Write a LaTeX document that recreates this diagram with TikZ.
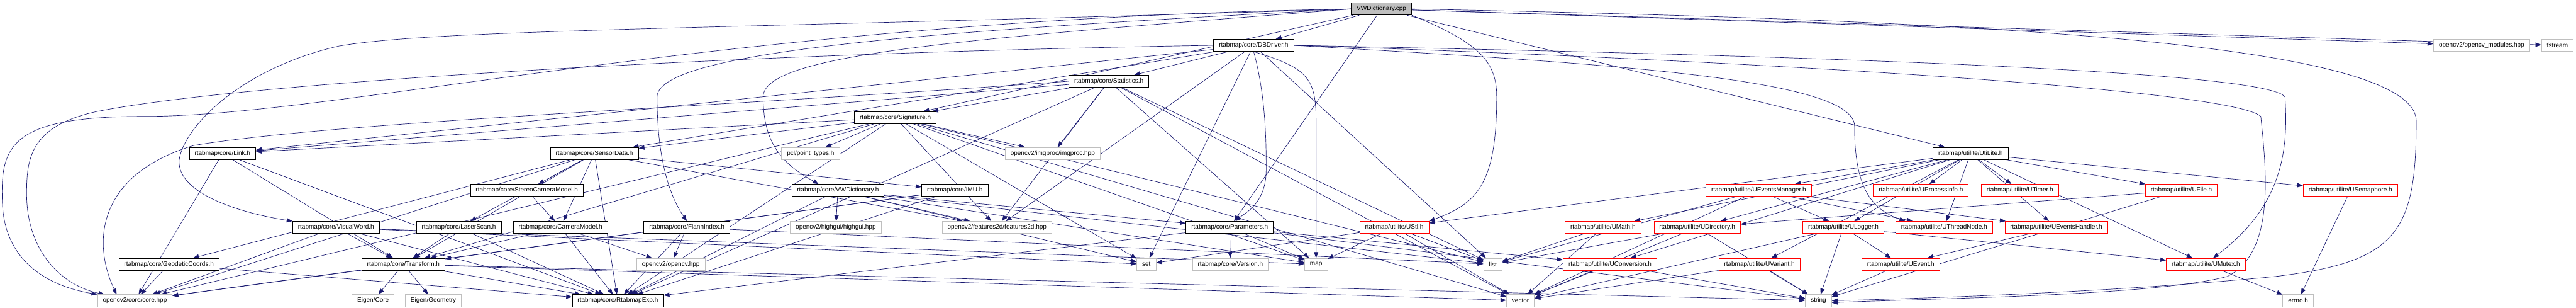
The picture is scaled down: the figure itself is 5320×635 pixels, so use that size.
\documentclass[tikz,border=0pt]{standalone}
\usepackage{fontspec}
\setmainfont{Liberation Sans}
\usetikzlibrary{arrows.meta, backgrounds}
\definecolor{edgeblue}{HTML}{191970}
\definecolor{extgray}{HTML}{BFBFBF}
\definecolor{truncred}{HTML}{FF0000}

\begin{document}
\begin{tikzpicture}[
    x=1pt, y=-1pt,
    >={Triangle[length=12pt, width=9pt]},
    every node/.style={font=\fontsize{13}{15}\selectfont, inner xsep=11pt,
      inner ysep=0pt, minimum height=25pt, line width=1pt, fill=white},
    hfile/.style={draw=black},
    hred/.style={draw=truncred},
    hext/.style={draw=extgray},
    hroot/.style={draw=black, fill=extgray},
    dep/.style={->, edgeblue, line width=0.9pt},
  ]
  \useasboundingbox (0,0) rectangle (5320,635);

  % ===== Rows 0-3 =====
  \node[hroot] (cpp) at (2853,18.5) {VWDictionary.cpp};
  \node[hfile] (dbdriver) at (2589,93.5) {rtabmap/core/DBDriver.h};
  \node[hext] (modules) at (5125,93.5) {opencv2/opencv\_modules.hpp};
  \node[hext] (fstream) at (5281.5,93.5) {fstream};
  \node[hfile] (statistics) at (2290,167.5) {rtabmap/core/Statistics.h};
  \node[hfile] (signature) at (1849,242.5) {rtabmap/core/Signature.h};

  % ===== Row 4 =====
  \node[hfile] (link) at (459.5,316.5) {rtabmap/core/Link.h};
  \node[hfile] (sensordata) at (1227.5,316.5) {rtabmap/core/SensorData.h};
  \node[hext] (pointtypes) at (1674,316.5) {pcl/point\_types.h};
  \node[hext] (imgproc) at (2174,316.5) {opencv2/imgproc/imgproc.hpp};
  \node[hfile] (utilite) at (4069.5,316.5) {rtabmap/utilite/UtiLite.h};

  % ===== Row 5 =====
  \node[hfile] (stereo) at (1088,392.5) {rtabmap/core/StereoCameraModel.h};
  \node[hfile] (vwdict) at (1730.5,392.5) {rtabmap/core/VWDictionary.h};
  \node[hfile] (imu) at (1972,392.5) {rtabmap/core/IMU.h};
  \node[hred] (evmgr) at (3632,392.5) {rtabmap/utilite/UEventsManager.h};
  \node[hred] (procinfo) at (3967,392.5) {rtabmap/utilite/UProcessInfo.h};
  \node[hred] (timer) at (4171.5,392.5) {rtabmap/utilite/UTimer.h};
  \node[hred] (ufile) at (4505,392.5) {rtabmap/utilite/UFile.h};
  \node[hred] (usem) at (4854,392.5) {rtabmap/utilite/USemaphore.h};

  % ===== Row 6 =====
  \node[hfile] (visualword) at (694,469) {rtabmap/core/VisualWord.h};
  \node[hfile] (laserscan) at (947.5,469) {rtabmap/core/LaserScan.h};
  \node[hfile] (camera) at (1157.5,469) {rtabmap/core/CameraModel.h};
  \node[hfile] (flann) at (1418.5,469) {rtabmap/core/FlannIndex.h};
  \node[hext] (highgui) at (1726,469) {opencv2/highgui/highgui.hpp};
  \node[hext] (features2d) at (2059,469) {opencv2/features2d/features2d.hpp};
  \node[hfile] (parameters) at (2539.5,469) {rtabmap/core/Parameters.h};
  \node[hred] (ustl) at (2879.5,469) {rtabmap/utilite/UStl.h};
  \node[hred] (umath) at (3310.5,469) {rtabmap/utilite/UMath.h};
  \node[hred] (udir) at (3505,469) {rtabmap/utilite/UDirectory.h};
  \node[hred] (ulogger) at (3807,469) {rtabmap/utilite/ULogger.h};
  \node[hred] (uthread) at (4015,469) {rtabmap/utilite/UThreadNode.h};
  \node[hred] (uevhandler) at (4246.5,469) {rtabmap/utilite/UEventsHandler.h};

  % ===== Row 7 =====
  \node[hfile] (geodetic) at (349,545) {rtabmap/core/GeodeticCoords.h};
  \node[hfile] (transform) at (833,545) {rtabmap/core/Transform.h};
  \node[hext] (opencvhpp) at (1385.5,545) {opencv2/opencv.hpp};
  \node[hext] (stdset) at (2367.5,545) {set};
  \node[hext] (version) at (2541,545) {rtabmap/core/Version.h};
  \node[hext] (stdmap) at (2718,545) {map};
  \node[hext] (stdlist) at (3083,545) {list};
  \node[hred] (uconv) at (3325,545) {rtabmap/utilite/UConversion.h};
  \node[hred] (uvariant) at (3633.5,545) {rtabmap/utilite/UVariant.h};
  \node[hred] (uevent) at (3925.5,545) {rtabmap/utilite/UEvent.h};
  \node[hred] (umutex) at (4555.5,545) {rtabmap/utilite/UMutex.h};

  % ===== Row 8 =====
  \node[hext] (corehpp) at (278.5,620) {opencv2/core/core.hpp};
  \node[hext] (eigencore) at (770.5,620) {Eigen/Core};
  \node[hext] (eigengeo) at (895,620) {Eigen/Geometry};
  \node[hfile] (rtabexp) at (1276,620) {rtabmap/core/RtabmapExp.h};
  \node[hext] (stdvector) at (3140,620) {vector};
  \node[hext] (stdstring) at (3755.5,620) {string};
  \node[hext] (errno) at (4746,620) {errno.h};

  % ===== Include edges (behind the boxes) =====
  \begin{pgfonlayer}{background}
    % long arcs round the left side
    \draw[dep] (cpp.west) .. controls (1500,40) and (700,240) .. (300,240)
      .. controls (20,240) and (0,300) .. (5,420)
      .. controls (10,540) and (100,590) .. (corehpp.north west);
    \draw[dep] (dbdriver.west) .. controls (1500,110) and (500,170) .. (200,230)
      .. controls (60,260) and (55,330) .. (55,400)
      .. controls (55,520) and (130,590) .. ([xshift=15pt]corehpp.north west);
    \draw[dep] (statistics.west) .. controls (1500,220) and (700,250) .. (400,300)
      .. controls (200,360) and (190,500) .. ([xshift=40pt]corehpp.north west);
    \draw[dep] (cpp.west) .. controls (1500,60) and (900,60) .. (700,95)
      .. controls (500,140) and (380,260) .. (370,330)
      .. controls (365,400) and (500,440) .. (visualword.north west);

    % long arcs round the right side
    \draw[dep] (cpp.east) .. controls (4000,40) and (4990,80) .. (4990,250)
      .. controls (4990,480) and (4950,540) .. (4700,570)
      .. controls (4400,600) and (4000,615) .. (stdstring.east);
    \draw[dep] (dbdriver.east) .. controls (3500,110) and (4680,140) .. (4719,200)
      .. controls (4725,300) and (4720,420) .. ([xshift=15pt]umutex.north);
    \draw[dep] (dbdriver.east) .. controls (3500,120) and (4600,180) .. (4669,240)
      .. controls (4680,350) and (4700,520) .. (4600,570)
      .. controls (4450,610) and (4000,615) .. ([yshift=-4pt]stdstring.east);
    \draw[dep] (dbdriver.east) .. controls (3300,130) and (3830,160) .. (3830,260)
      .. controls (3830,380) and (3860,430) .. ([xshift=20pt]uthread.north west);

    % vertical drops
    \draw[dep] (cpp.west) .. controls (2000,60) and (1357,100) .. (1357,200)
      .. controls (1357,320) and (1380,400) .. (flann.north);
    \draw[dep] (cpp.west) .. controls (2000,80) and (1576,110) .. (1576,200)
      .. controls (1576,300) and (1620,340) .. ([xshift=-40pt]vwdict.north);
    \draw[dep] (cpp.south east) .. controls (3060,90) and (3091,130) .. (3091,200)
      .. controls (3091,380) and (3050,420) .. (ustl.north east);
    \draw[dep] (dbdriver.south) .. controls (2700,140) and (2718,160) .. (2718,250)
      -- (stdmap);
    \draw[dep] (dbdriver.south) .. controls (2615,200) and (2615,300) .. (2615,350)
      .. controls (2615,420) and (2570,440) .. ([xshift=12pt]parameters.north);

    % remaining includes
    \foreach \dst in {dbdriver,signature,parameters,utilite,modules,fstream}
      \draw[dep] (cpp) -- (\dst);
    \foreach \dst in {statistics,sensordata,link,stdlist,stdset,features2d}
      \draw[dep] (dbdriver) -- (\dst);
    \foreach \dst in {signature,link,imgproc,features2d,stdlist,stdvector,
        stdmap,rtabexp}
      \draw[dep] (statistics) -- (\dst);
    \foreach \dst in {pointtypes,imgproc,features2d,corehpp,sensordata,link,
        transform,stdmap,stdlist,stdvector,stdset,rtabexp}
      \draw[dep] (signature) -- (\dst);
    \foreach \dst in {transform,corehpp,rtabexp}
      \draw[dep] (link) -- (\dst);
    \foreach \dst in {stereo,camera,laserscan,imu,transform,rtabexp,corehpp,
        features2d,geodetic}
      \draw[dep] (sensordata) -- (\dst);
    \draw[dep] (stereo) -- (camera);
    \foreach \dst in {transform,rtabexp,opencvhpp}
      \draw[dep] (camera) -- (\dst);
    \foreach \dst in {transform,rtabexp}
      \draw[dep] (laserscan) -- (\dst);
    \foreach \dst in {opencvhpp,rtabexp,stdlist}
      \draw[dep] (flann) -- (\dst);
    \foreach \dst in {highgui,features2d,parameters,stdset,stdlist,stdmap,rtabexp}
      \draw[dep] (vwdict) -- (\dst);
    \foreach \dst in {transform,corehpp,rtabexp}
      \draw[dep] (imu) -- (\dst);
    \foreach \dst in {corehpp,transform,rtabexp,stdmap,stdset}
      \draw[dep] (visualword) -- (\dst);
    \foreach \dst in {corehpp,rtabexp}
      \draw[dep] (geodetic) -- (\dst);
    \foreach \dst in {eigencore,eigengeo,corehpp,rtabexp,stdvector,stdstring}
      \draw[dep] (transform) -- (\dst);
    \foreach \dst in {rtabexp,version,stdmap,stdstring,uconv}
      \draw[dep] (parameters) -- (\dst);
    \foreach \dst in {evmgr,procinfo,timer,ulogger,uthread,uevhandler,ufile,usem,
        umutex,udir,uconv,uvariant,umath,ustl}
      \draw[dep] (utilite) -- (\dst);
    \foreach \dst in {ulogger,uthread,uevhandler,stdlist,stdvector}
      \draw[dep] (evmgr) -- (\dst);
    \foreach \dst in {uevent,stdstring,umutex,stdvector}
      \draw[dep] (ulogger) -- (\dst);
    \foreach \dst in {udir,stdstring}
      \draw[dep] (ufile) -- (\dst);
    \foreach \dst in {stdstring,stdlist,stdvector}
      \draw[dep] (udir) -- (\dst);
    \foreach \dst in {stdlist,stdvector}
      \draw[dep] (umath) -- (\dst);
    \foreach \dst in {stdmap,stdlist,stdvector,stdset}
      \draw[dep] (ustl) -- (\dst);
    \foreach \dst in {stdvector,stdstring}
      \draw[dep] (uconv) -- (\dst);
    \foreach \dst in {stdstring,stdvector}
      \draw[dep] (uvariant) -- (\dst);
    \draw[dep] (uevent) -- (stdstring);
    \draw[dep] (uevhandler) -- (uevent);
    \draw[dep] (umutex) -- (errno);
    \draw[dep] (usem) -- (errno);
  \end{pgfonlayer}
\end{tikzpicture}
\end{document}
